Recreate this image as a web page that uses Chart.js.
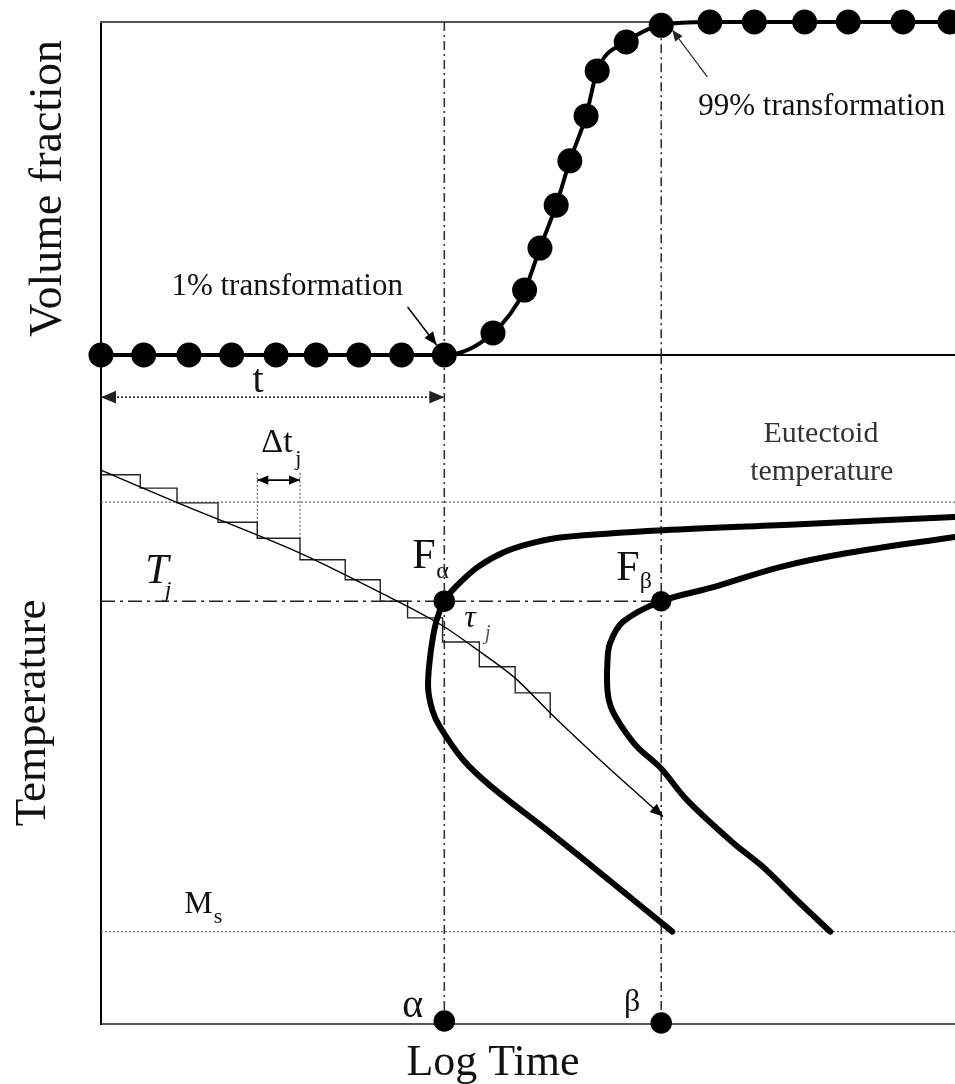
<!DOCTYPE html>
<html>
<head>
<meta charset="utf-8">
<script src="https://cdn.jsdelivr.net/npm/chart.js@4"></script>
<style>
html, body { margin: 0; padding: 0; background: #fff; overflow: hidden; }
#wrap { position: relative; width: 955px; height: 1084px; }
canvas { position: absolute; left: 0; top: 0; }
</style>
</head>
<body>
<div id="wrap">
  <canvas id="temp" width="955" height="1084"></canvas>
  <canvas id="frac" width="955" height="1084"></canvas>
</div>
<script>
// schematic units: log time 0..10, temperature 0..100, volume fraction 0..1
const alphaTime = 4.02
const betaTime = 6.56
const tjTemp = 63.2
const eutectoidTemp = 78
const msTemp = 13.8

// upper panel: volume fraction vs log time (dots)
const fracTime = [0, 0.5, 1.03, 1.53, 2.05, 2.52, 3.02, 3.52, 4.02, 4.59, 4.96, 5.14, 5.33, 5.49, 5.68, 5.81, 6.15, 6.56, 7.13, 7.65, 8.24, 8.75, 9.39, 9.94, 10]
const fracValue = [0, 0, 0, 0, 0, 0, 0, 0, 0, 0.066, 0.195, 0.321, 0.45, 0.583, 0.718, 0.853, 0.94, 0.99, 1, 1, 1, 1, 1, 1, 1]

// cooling path and its stepwise approximation
const coolTime = [0, 0.9, 2.33, 3.44, 3.99, 4.41, 4.85, 5.26, 5.84, 6.23, 6.58]
const coolTemp = [82.8, 77.9, 70.4, 63.4, 59.6, 55.9, 51.7, 46.5, 39.5, 35.0, 31.0]
const stepTime = [0, 0.46, 0.89, 1.37, 1.83, 2.33, 2.86, 3.27, 3.59, 4.0, 4.43, 4.85, 5.26]
const stepTemp = [82.1, 80.1, 77.9, 75.0, 72.6, 69.4, 66.4, 63.2, 60.7, 57.1, 53.4, 49.5, 45.7]

// C-curves (start / 1% and 99% lines)
const alphaCurveTime = [10, 8.18, 6.58, 5.43, 5.08, 4.73, 4.41, 4.15, 4.02, 3.93, 3.86, 3.83, 3.88, 3.97, 4.24, 4.56, 5.26, 5.96, 6.69]
const alphaCurveTemp = [75.8, 74.7, 73.8, 72.8, 72.0, 70.6, 68.3, 65.3, 63.2, 60.4, 55.5, 50.4, 46.9, 44.4, 39.5, 35.6, 28.6, 21.4, 13.8]
const betaCurveTime = [10, 8.74, 7.95, 7.17, 6.56, 6.11, 5.96, 5.93, 5.93, 5.97, 6.08, 6.28, 6.55, 6.86, 7.40, 7.75, 8.15, 8.54]
const betaCurveTemp = [72.8, 70.4, 68.3, 65.3, 63.2, 60.1, 56.9, 54.1, 49.9, 47.4, 44.8, 41.4, 38.3, 33.5, 27.1, 23.5, 18.5, 13.8]

// interval markers
const tArrowTemp = 93.7
const dtTime = [1.83, 2.33]
const dtTemp = 81.3
const dtSpan = [82.4, 72.6]

const fracNotes = [
  { text: 'Volume fraction', x: -0.468, y: 0.5, size: 46, rotate: -90 },
  { text: '1% transformation', x: 2.18, y: 0.18, size: 31 },
  { text: '99% transformation', x: 8.44, y: 0.721, size: 31 },
]

const tempNotes = [
  { text: 'Temperature', x: -0.656, y: 46.5, size: 45, rotate: -90 },
  { text: 'Log Time', x: 4.59, y: -7.6, size: 44 },
  { text: 't', x: 1.84, y: 94.5, size: 40 },
  { text: 'Δt', x: 2.06, y: 85.5, size: 34 },
  { text: 'j', x: 2.31, y: 83.6, size: 22 },
  { text: 'Eutectoid', x: 8.43, y: 87.0, size: 30, color: '#333' },
  { text: 'temperature', x: 8.44, y: 81.3, size: 30, color: '#333' },
  { text: 'T', x: 0.656, y: 65.9, size: 42, italic: true },
  { text: 'j', x: 0.785, y: 63.8, size: 24, italic: true },
  { text: 'F', x: 3.78, y: 68.2, size: 42 },
  { text: 'α', x: 4.0, y: 66.7, size: 24 },
  { text: 'F', x: 6.17, y: 66.4, size: 42 },
  { text: 'β', x: 6.38, y: 65.2, size: 24 },
  { text: 'τ', x: 4.32, y: 59.3, size: 32, italic: true },
  { text: 'j', x: 4.53, y: 57.5, size: 20, italic: true, color: '#555' },
  { text: 'M', x: 1.14, y: 16.6, size: 32 },
  { text: 's', x: 1.37, y: 15.1, size: 22 },
  { text: 'α', x: 3.65, y: 1.0, size: 40 },
  { text: 'β', x: 6.22, y: 1.9, size: 32 },
]

const serif = '"Liberation Serif", "Times New Roman", serif'

// text placed in data units
const notes = {
  id: 'notes',
  afterDatasetsDraw(chart, args, opts) {
    const { ctx, scales: { x, y } } = chart
    opts.items.forEach(n => {
      ctx.save()
      ctx.translate(x.getPixelForValue(n.x), y.getPixelForValue(n.y))
      if (n.rotate) ctx.rotate(n.rotate * Math.PI / 180)
      ctx.font = (n.italic ? 'italic ' : '') + n.size + 'px ' + serif
      ctx.fillStyle = n.color || '#111'
      ctx.textAlign = 'center'
      ctx.textBaseline = 'alphabetic'
      ctx.fillText(n.text, 0, 0)
      ctx.restore()
    })
  },
}

// arrow heads at the ends of flagged datasets
const arrows = {
  id: 'arrows',
  afterDatasetsDraw(chart) {
    const ctx = chart.ctx
    chart.data.datasets.forEach((ds, i) => {
      if (!ds.arrow) return
      const pts = chart.getDatasetMeta(i).data
      const size = ds.arrowSize || 12
      const head = (tip, from) => {
        const a = Math.atan2(tip.y - from.y, tip.x - from.x)
        const w = size * 0.42
        const bx = tip.x - size * Math.cos(a)
        const by = tip.y - size * Math.sin(a)
        ctx.save()
        ctx.fillStyle = ds.borderColor
        ctx.beginPath()
        ctx.moveTo(tip.x, tip.y)
        ctx.lineTo(bx + w * Math.sin(a), by - w * Math.cos(a))
        ctx.lineTo(bx - w * Math.sin(a), by + w * Math.cos(a))
        ctx.closePath()
        ctx.fill()
        ctx.restore()
      }
      head(pts[pts.length - 1], pts[pts.length - 2])
      if (ds.arrow === 'both') head(pts[0], pts[1])
    })
  },
}

const xy = (xs, ys) => xs.map((x, i) => ({ x, y: ys[i] }))

function line(data, style) {
  return Object.assign({
    data,
    borderColor: '#000',
    borderWidth: 1.5,
    pointRadius: 0,
    pointHoverRadius: 0,
    fill: false,
    tension: 0,
    clip: false,
  }, style)
}

const dashDot = { borderWidth: 1.6, borderColor: '#333', borderDash: [9, 4, 2, 4] }
const dotted = { borderWidth: 1.2, borderColor: '#666', borderDash: [2, 2] }

function axis(extra, border) {
  return Object.assign({
    type: 'linear',
    grid: { display: false, drawTicks: false },
    ticks: { display: false },
    border: border || { display: false },
  }, extra)
}

function options(yMin, yMax, padding, items, scales) {
  return {
    responsive: false,
    animation: false,
    events: [],
    layout: { padding, autoPadding: false },
    plugins: { legend: { display: false }, tooltip: { enabled: false }, notes: { items } },
    scales: Object.assign({
      x: axis({ min: 0, max: 10 }, { color: '#000', width: 2 }),
      y: axis({ min: yMin, max: yMax }, { color: '#000', width: 2 }),
    }, scales),
  }
}

new Chart(document.getElementById('frac'), {
  type: 'line',
  data: {
    datasets: [
      line(xy(fracTime, fracValue), {
        borderWidth: 4,
        pointRadius: fracTime.map((t, i) => (i === fracTime.length - 1 ? 0 : 10.5)),
        pointBackgroundColor: '#000',
        cubicInterpolationMode: 'monotone',
      }),
      line([{ x: 3.59, y: 0.144 }, { x: 3.93, y: 0.03 }], { arrow: 'end', arrowSize: 13 }),
      line([{ x: 7.10, y: 0.835 }, { x: 6.69, y: 0.976 }], { borderWidth: 1.2, borderColor: '#222', arrow: 'end', arrowSize: 11 }),
      line([{ x: alphaTime, y: 1 }, { x: alphaTime, y: 0 }], dashDot),
      line([{ x: betaTime, y: 0.99 }, { x: betaTime, y: 0 }], dashDot),
    ],
  },
  options: options(0, 1, { left: 101, top: 22, right: 0, bottom: 729 }, fracNotes, {
    xTop: axis({ position: 'top', min: 0, max: 10 }, { color: '#555', width: 2 }),
  }),
  plugins: [notes, arrows],
})

new Chart(document.getElementById('temp'), {
  type: 'line',
  data: {
    datasets: [
      line([{ x: alphaTime, y: tjTemp }, { x: betaTime, y: tjTemp }, { x: alphaTime, y: 0.45 }, { x: betaTime, y: 0.15 }], {
        showLine: false,
        pointRadius: [10, 9.5, 10, 10],
        pointBackgroundColor: '#000',
      }),
      line(xy(alphaCurveTime, alphaCurveTemp), { borderWidth: 6, tension: 0.35, borderCapStyle: 'round' }),
      line(xy(betaCurveTime, betaCurveTemp), { borderWidth: 6, tension: 0.35, borderCapStyle: 'round' }),
      line(xy(coolTime, coolTemp), { borderWidth: 1.4, tension: 0.3, arrow: 'end', arrowSize: 13 }),
      line(xy(stepTime, stepTemp), { borderWidth: 1.4, borderColor: '#222', stepped: 'before' }),
      line(xy(dtTime, [dtTemp, dtTemp]), { borderWidth: 1.8, arrow: 'both', arrowSize: 11 }),
      line([{ x: 0, y: tArrowTemp }, { x: alphaTime, y: tArrowTemp }], { borderWidth: 1.6, borderColor: '#222', borderDash: [2, 2], arrow: 'both', arrowSize: 15 }),
      line([{ x: dtTime[0], y: dtSpan[0] }, { x: dtTime[0], y: dtSpan[1] }], dotted),
      line([{ x: dtTime[1], y: dtSpan[0] }, { x: dtTime[1], y: dtSpan[1] }], dotted),
      line([{ x: 0, y: tjTemp }, { x: betaTime, y: tjTemp }], { borderWidth: 1.6, borderColor: '#222', borderDash: [14, 5, 3, 5] }),
      line([{ x: alphaTime, y: 100 }, { x: alphaTime, y: 0 }], dashDot),
      line([{ x: betaTime, y: 100 }, { x: betaTime, y: 0 }], dashDot),
      line([{ x: 0, y: eutectoidTemp }, { x: 10, y: eutectoidTemp }], dotted),
      line([{ x: 0, y: msTemp }, { x: 10, y: msTemp }], dotted),
    ],
  },
  options: options(0, 100, { left: 101, top: 355, right: 0, bottom: 60 }, tempNotes, {
    x: axis({ min: 0, max: 10 }, { color: '#555', width: 2 }),
  }),
  plugins: [notes, arrows],
})
</script>
</body>
</html>
